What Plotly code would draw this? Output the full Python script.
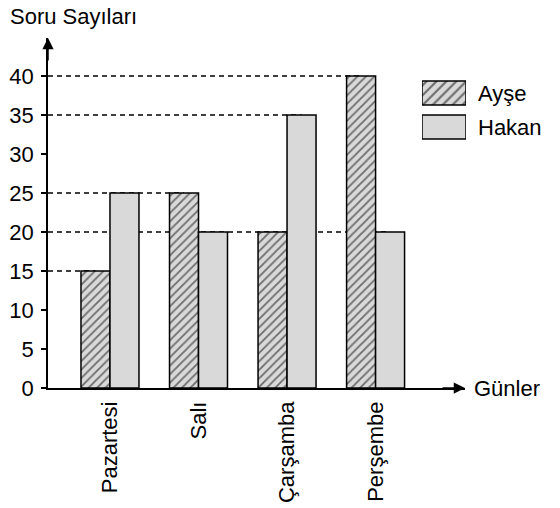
import plotly.graph_objects as go

days = ["Pazartesi", "Salı", "Çarşamba", "Perşembe"]
series_names = ["Ayşe", "Hakan"]
ayse = [15, 25, 20, 40]
hakan = [25, 20, 35, 20]
y_ticks = [0, 5, 10, 15, 20, 25, 30, 35, 40]
y_title = "Soru Sayıları"
x_title = "Günler"

FONT = "Liberation Sans, Arial, sans-serif"
FS = 22
GRAY = "#d9d9d9"
X0, X1 = -0.7, 4.01
YMAX = 44.87
BARGAP = 0.345
HALF = (1 - BARGAP) / 2
PW = 502  # plot area width (px)
PH = 350  # plot area height (px)

fig = go.Figure()
fig.add_trace(go.Bar(
    x=list(range(len(days))), y=ayse, name=series_names[0], showlegend=False,
    marker=dict(color=GRAY, line=dict(color="black", width=1.5),
                pattern=dict(shape="/", size=6, solidity=0.3, fgcolor="black", bgcolor=GRAY)),
))
fig.add_trace(go.Bar(
    x=list(range(len(days))), y=hakan, name=series_names[1], showlegend=False,
    marker=dict(color=GRAY, line=dict(color="black", width=1.5)),
))

# legend swatches drawn as bars on a small extra subplot
fig.add_trace(go.Bar(
    x=[1, 1], y=series_names[::-1], orientation="h", width=0.7,
    xaxis="x2", yaxis="y3", showlegend=False, hoverinfo="skip",
    marker=dict(color=GRAY, line=dict(color="black", width=1.5),
                pattern=dict(shape=["", "/"], size=7, solidity=0.3, fgcolor="black", bgcolor=GRAY)),
))

# dashed reference lines: from the y axis to the farthest bar with that value
pos = {}
for i, v in enumerate(ayse):
    pos[v] = max(pos.get(v, -10), i - HALF / 2)
for i, v in enumerate(hakan):
    pos[v] = max(pos.get(v, -10), i + HALF / 2)
shapes = []
for v, xe in pos.items():
    shapes.append(dict(type="line", xref="x", yref="y", x0=X0, x1=xe, y0=v, y1=v,
                       line=dict(color="black", width=1.5, dash="5px,4px"), layer="below"))

annotations = [
    dict(xref="x", yref="y", x=X1, y=0, ax=-24, ay=0, axref="pixel", ayref="pixel",
         showarrow=True, arrowhead=2, arrowsize=1.5, arrowwidth=1.5, arrowcolor="black", text=""),
    dict(xref="x", yref="y", x=X0, y=YMAX, ax=0, ay=24, axref="pixel", ayref="pixel",
         showarrow=True, arrowhead=2, arrowsize=1.5, arrowwidth=1.5, arrowcolor="black", text=""),
    dict(xref="paper", yref="y", x=(472 - 48) / PW, y=0, xanchor="left", yanchor="middle",
         text=x_title, showarrow=False, font=dict(size=FS, color="black", family=FONT)),
    dict(xref="paper", yref="paper", x=(8 - 48) / PW, y=(388 - 17) / PH, xanchor="left",
         yanchor="middle", text=y_title, showarrow=False,
         font=dict(size=FS, color="black", family=FONT)),
]

fig.update_layout(
    width=560, height=508,
    margin=dict(l=48, r=10, t=38, b=120),
    paper_bgcolor="white", plot_bgcolor="white",
    barmode="group", bargap=BARGAP, bargroupgap=0,
    font=dict(family=FONT, size=FS, color="black"),
    shapes=shapes, annotations=annotations,
    xaxis=dict(domain=[0, 417 / PW], range=[X0, X1], tickmode="array",
               tickvals=list(range(len(days))), ticktext=days, tickangle=-90,
               showline=True, linecolor="black", linewidth=1.5, ticks="",
               showgrid=False, zeroline=False, tickfont=dict(size=FS),
               ticklabelstandoff=3, automargin=False),
    yaxis=dict(range=[0, YMAX], tickvals=y_ticks, showline=True, linecolor="black",
               linewidth=1.5, ticks="outside", ticklen=5, tickwidth=1.5, tickcolor="black",
               showgrid=False, zeroline=False, tickfont=dict(size=FS),
               ticklabelstandoff=3, automargin=False),
    yaxis2=dict(overlaying="y", anchor="x", side="left", range=[0, YMAX], tickvals=y_ticks,
                ticks="inside", ticklen=5, tickwidth=1.5, tickcolor="black",
                showticklabels=False, showline=False, showgrid=False, zeroline=False),
    xaxis2=dict(domain=[(422 - 48) / PW, (466 - 48) / PW], anchor="y3", range=[0, 1],
                visible=False, fixedrange=True),
    yaxis3=dict(domain=[(388 - 144) / PH, (388 - 76) / PH], anchor="x2", type="category",
                categoryorder="array", categoryarray=series_names[::-1], side="right",
                ticks="", showline=False, showgrid=False, zeroline=False,
                tickfont=dict(size=FS), ticklabelstandoff=11, automargin=False),
)

fig.write_html("out.html", config={"displayModeBar": False},
               post_script="document.body.style.margin='0';")
